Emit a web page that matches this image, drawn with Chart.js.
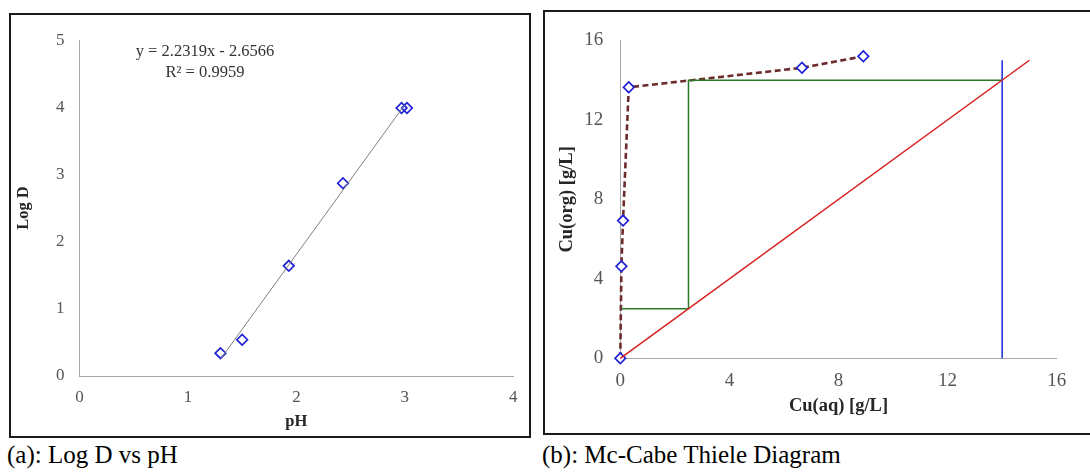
<!DOCTYPE html>
<html>
<head>
<meta charset="utf-8">
<script src="https://cdn.jsdelivr.net/npm/chart.js@4.4.1/dist/chart.umd.min.js"></script>
<style>
html,body{margin:0;padding:0;background:#fff;overflow:hidden;width:1090px;height:472px;position:relative;font-family:"Liberation Serif","Times New Roman",serif;}
.box{position:absolute;border:2px solid #1a1a1a;box-sizing:border-box;background:#fff;}
#boxA{left:9px;top:13px;width:522px;height:425px;}
#boxB{left:543px;top:10px;width:551px;height:425px;}
.box canvas{position:absolute;left:0;top:0;}
.cap{position:absolute;font-size:25px;line-height:25px;color:#000;white-space:nowrap;}
#capA{left:7px;top:442px;}
#capB{left:542px;top:442px;}
#eq{position:absolute;left:105px;width:200px;top:40px;text-align:center;font-size:16.5px;line-height:21px;color:#333;white-space:nowrap;}
</style>
</head>
<body>
<div class="box" id="boxA"><canvas id="chartA" width="518" height="421"></canvas></div>
<div class="box" id="boxB"><canvas id="chartB" width="547" height="421"></canvas></div>
<div id="eq">y = 2.2319x - 2.6566<br>R² = 0.9959</div>
<div class="cap" id="capA">(a): Log D vs pH</div>
<div class="cap" id="capB">(b): Mc-Cabe Thiele Diagram</div>
<script>
// ---- Chart (a): Log D vs pH ----
const phValues   = [1.30, 1.50, 1.93, 2.43, 2.97, 3.02];
const logDValues = [0.34, 0.54, 1.64, 2.87, 3.99, 3.99];
const trendPH    = [1.30, 3.00];
const trendLogD  = [0.25, 4.04];
const phTicks    = [0, 1, 2, 3, 4];
const logDTicks  = [0, 1, 2, 3, 4, 5];

// ---- Chart (b): McCabe-Thiele ----
const cuAq       = [0, 0.04, 0.10, 0.31, 6.66, 8.91];
const cuOrg      = [0, 4.63, 6.93, 13.64, 14.62, 15.20];
const opLineAq   = [0, 15];
const opLineOrg  = [0, 15];
const feedAq     = [14, 14];
const feedOrg    = [0, 15];
const stageAq    = [14, 2.5, 2.5, 0.03];
const stageOrg   = [14, 14, 2.5, 2.5];
const cuTicks    = [0, 4, 8, 12, 16];

Chart.defaults.font.family = '"Liberation Serif","Times New Roman",serif';
Chart.defaults.animation = false;

const pts = (xs, ys) => xs.map((x, i) => ({x: x, y: ys[i]}));
const setTicks = arr => (scale) => { scale.ticks = arr.map(v => ({value: v})); };

const markerColor = '#1f1fd6';
const axisColor = '#a8a8a8';
const noGrid = {display: false, drawTicks: false, tickLength: 0};

new Chart(document.getElementById('chartA'), {
  type: 'scatter',
  data: {
    datasets: [
      {
        label: 'Linear fit',
        data: pts(trendPH, trendLogD),
        showLine: true,
        borderColor: '#808080',
        borderWidth: 1,
        pointRadius: 0,
        clip: false
      },
      {
        label: 'Log D',
        data: pts(phValues, logDValues),
        pointStyle: 'rectRot',
        pointRadius: 5.3,
        borderColor: markerColor,
        backgroundColor: 'rgba(0,0,0,0)',
        pointBorderWidth: 1.7,
        clip: false
      }
    ]
  },
  options: {
    responsive: false,
    animation: false,
    layout: {padding: {left: 0, top: 10, right: 11.4, bottom: 0}},
    plugins: {legend: {display: false}, tooltip: {enabled: false}},
    scales: {
      x: {
        type: 'linear', min: 0, max: 4,
        afterBuildTicks: setTicks(phTicks),
        afterFit: s => { s.height = 60; },
        grid: noGrid,
        border: {display: true, color: axisColor, width: 1},
        ticks: {color: '#555', font: {size: 17}, padding: 11.5},
        title: {display: true, text: 'pH', color: '#262626', font: {size: 16.5, weight: 'bold'}, padding: {top: 0, bottom: 4.5}}
      },
      y: {
        type: 'linear', min: 0, max: 5,
        afterBuildTicks: setTicks(logDTicks),
        afterFit: s => { s.width = 68.5; },
        grid: noGrid,
        border: {display: true, color: axisColor, width: 1},
        ticks: {color: '#555', font: {size: 17}, padding: 15},
        title: {display: true, text: 'Log D', color: '#262626', font: {size: 16.5, weight: 'bold'}, padding: {top: 3, bottom: 0}}
      }
    }
  }
});

new Chart(document.getElementById('chartB'), {
  type: 'scatter',
  data: {
    datasets: [
      {
        label: 'Operating line',
        data: pts(opLineAq, opLineOrg),
        showLine: true, borderColor: '#d81e1e', borderWidth: 1.5, pointRadius: 0, clip: false
      },
      {
        label: 'Feed',
        data: pts(feedAq, feedOrg),
        showLine: true, borderColor: '#2438e0', borderWidth: 1.6, pointRadius: 0, clip: false
      },
      {
        label: 'Stages',
        data: pts(stageAq, stageOrg),
        showLine: true, borderColor: '#2a7a2a', borderWidth: 1.5, pointRadius: 0, clip: false
      },
      {
        label: 'Equilibrium',
        data: pts(cuAq, cuOrg),
        showLine: true,
        borderColor: '#6e2b2b',
        borderWidth: 2.6,
        borderDash: [6, 3.5],
        pointStyle: 'rectRot',
        pointRadius: 5.3,
        pointBorderColor: markerColor,
        pointBackgroundColor: '#ffffff',
        pointBorderWidth: 1.7,
        clip: false
      }
    ]
  },
  options: {
    responsive: false,
    animation: false,
    layout: {padding: {left: 0, top: 16.3, right: 35.3, bottom: 0}},
    plugins: {legend: {display: false}, tooltip: {enabled: false}},
    scales: {
      x: {
        type: 'linear', min: 0, max: 16,
        afterBuildTicks: setTicks(cuTicks),
        afterFit: s => { s.height = 74.7; },
        grid: noGrid,
        border: {display: true, color: axisColor, width: 1},
        ticks: {color: '#555', font: {size: 19}, padding: 11.3},
        title: {display: true, text: 'Cu(aq) [g/L]', color: '#262626', font: {size: 18.5, weight: 'bold'}, padding: {top: 0, bottom: 15.3}}
      },
      y: {
        type: 'linear', min: 0, max: 16,
        afterBuildTicks: setTicks(cuTicks),
        afterFit: s => { s.width = 75.3; },
        grid: noGrid,
        border: {display: true, color: axisColor, width: 1},
        ticks: {color: '#555', font: {size: 19}, padding: 17},
        title: {display: true, text: 'Cu(org) [g/L]', color: '#262626', font: {size: 18.5, weight: 'bold'}, padding: {top: 10.9, bottom: 0}}
      }
    }
  }
});
</script>
</body>
</html>
